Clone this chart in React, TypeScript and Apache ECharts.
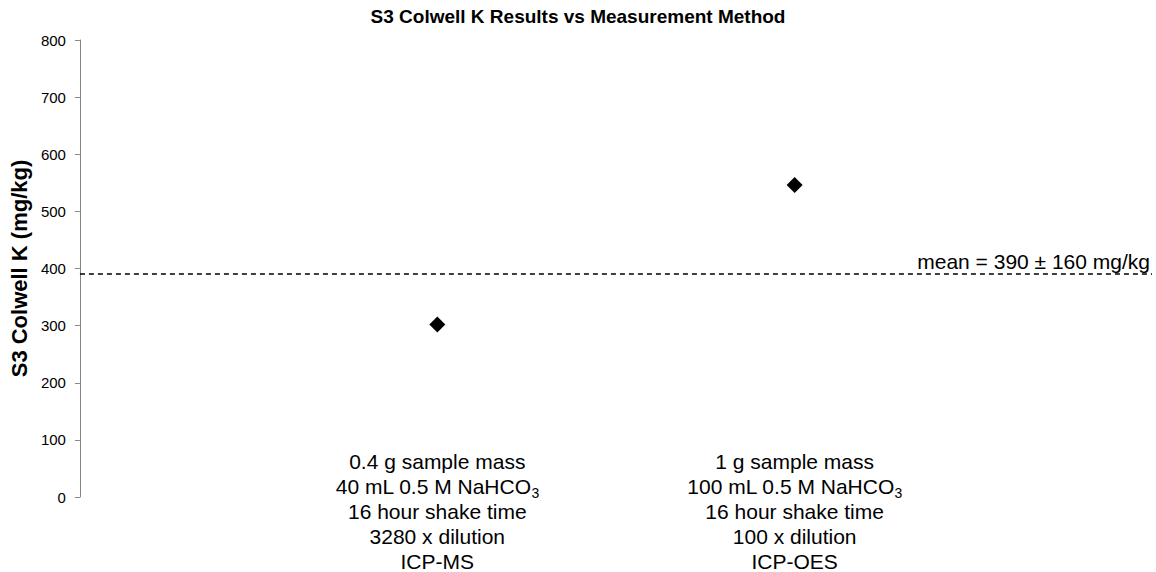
import React, { useEffect, useRef } from "react";
import * as echarts from "echarts";

const title = "S3 Colwell K Results vs Measurement Method";
const yName = "S3 Colwell K (mg/kg)";
const categoryX = [1, 2];
const categoryLabels = [
  ["0.4 g sample mass", "40 mL 0.5 M NaHCO|3", "16 hour shake time", "3280 x dilution", "ICP-MS"],
  ["1 g sample mass", "100 mL 0.5 M NaHCO|3", "16 hour shake time", "100 x dilution", "ICP-OES"],
];
const values = [302, 546];
const meanValue = 390;
const meanLabel = "mean = 390 ± 160 mg/kg";

const FONT = "'Liberation Sans', Arial, sans-serif";

function richLine(s: string) {
  if (s.includes("|")) {
    const [a, b] = s.split("|");
    return `{n|${a}}{s|${b}}`;
  }
  return `{n|${s}}`;
}

export default function App() {
  const ref = useRef<HTMLDivElement>(null);
  useEffect(() => {
    if (!ref.current) return;
    const chart = echarts.init(ref.current, undefined, { renderer: "svg" });
    chart.setOption({
      animation: false,
      backgroundColor: "#fff",
      textStyle: { fontFamily: FONT },
      title: {
        text: title,
        left: "center",
        top: 2,
        textStyle: { fontFamily: FONT, fontSize: 19, fontWeight: "bold", color: "#000" },
      },
      grid: { left: 78, right: 4, top: 40, bottom: 74 },
      xAxis: {
        type: "value",
        min: 0,
        max: 3,
        interval: 1,
        splitLine: { show: false },
        axisLine: { show: false },
        axisTick: { show: false },
        axisLabel: {
          margin: -48,
          interval: 0,
          showMinLabel: false,
          showMaxLabel: false,
          formatter: (v: number) => {
            const i = categoryX.indexOf(v);
            if (i < 0) return "";
            return categoryLabels[i].map(richLine).join("\n");
          },
          rich: {
            n: { fontFamily: FONT, fontSize: 21, lineHeight: 25, color: "#000" },
            s: { fontFamily: FONT, fontSize: 14, lineHeight: 25, color: "#000", padding: [12, 0, 0, 0] },
          },
        },
      },
      yAxis: {
        type: "value",
        min: 0,
        max: 800,
        interval: 100,
        name: yName,
        nameLocation: "middle",
        nameGap: 41,
        nameTextStyle: { fontFamily: FONT, fontSize: 22, fontWeight: "bold", color: "#000" },
        splitLine: { show: false },
        axisLine: { show: true, lineStyle: { color: "#868686", width: 1 } },
        axisTick: { show: true, length: 5, lineStyle: { color: "#868686" } },
        axisLabel: { fontFamily: FONT, fontSize: 15, color: "#000", margin: 14 },
      },
      series: [
        {
          type: "scatter",
          data: categoryX.map((x, i) => [x, values[i]]),
          symbol: "diamond",
          symbolSize: 16,
          itemStyle: { color: "#000", opacity: 1 },
          markLine: {
            silent: true,
            symbol: "none",
            lineStyle: { color: "#000", type: [5, 4], width: 1.5 },
            label: {
              show: true,
              position: "insideEndTop",
              formatter: meanLabel,
              fontFamily: FONT,
              fontSize: 21,
              color: "#000",
              distance: 2,
            },
            data: [{ yAxis: meanValue }],
          },
        },
      ],
    });
    return () => chart.dispose();
  }, []);
  return <div ref={ref} style={{ width: 1156, height: 572, position: "absolute", left: 0, top: 0 }} />;
}
